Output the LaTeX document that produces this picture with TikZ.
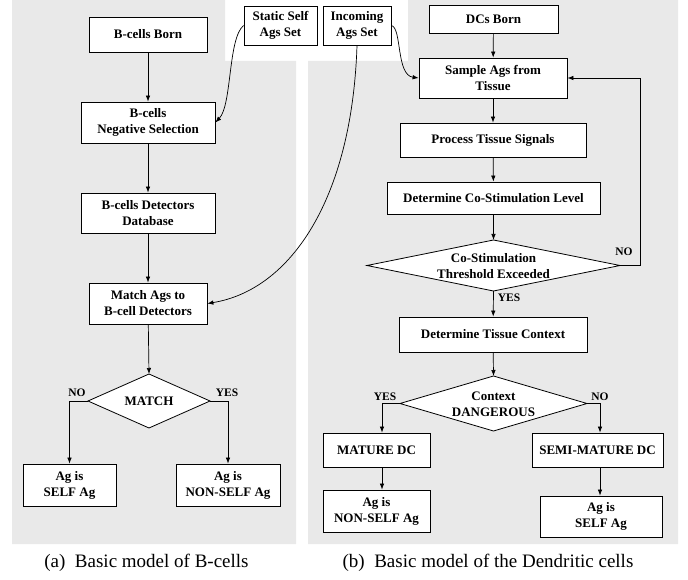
\documentclass[tikz,border=0pt]{standalone}
\usepackage{fontspec}
\setmainfont{Liberation Serif}
\usetikzlibrary{arrows.meta,calc}
\definecolor{panel}{RGB}{233,233,233}
\newcommand{\nodefont}{\fontsize{13}{16}\selectfont\bfseries}
\newcommand{\lblfont}{\fontsize{11.5}{13}\selectfont\bfseries}
\newcommand{\capfont}{\fontsize{19}{22}\selectfont}
\begin{document}
\begin{tikzpicture}[x=1pt,y=-1pt,
 box/.style={draw=black, fill=white, line width=0.8pt, align=center, font=\nodefont, inner sep=0pt},
 lbl/.style={font=\lblfont, inner sep=0pt},
 arr/.style={line width=0.7pt, -{Latex[length=6pt,width=4.5pt]}},
 dia/.style={draw=black, fill=white, line width=0.8pt},
 dtext/.style={align=center, font=\nodefont, inner sep=0pt}]
\useasboundingbox (0,0) rectangle (688,580);
% panels
\fill[panel] (12,0) -- (225,0) -- (225,61) -- (296,61) -- (296,544) -- (12,544) -- cycle;
\fill[panel] (308,61) -- (408,61) -- (408,0) -- (678,0) -- (678,544) -- (308,544) -- cycle;

% ---------- left: B-cells ----------
\node[box, minimum width=118, minimum height=35] (bborn) at (148,34.5) {B-cells Born};
\node[box, minimum width=134, minimum height=41] (bneg) at (148,122.5) {B-cells\\Negative Selection};
\node[box, minimum width=134, minimum height=40] (bdb) at (148,213) {B-cells Detectors\\Database};
\node[box, minimum width=118, minimum height=41] (bmatch) at (148,303.5) {Match Ags to\\B-cell Detectors};
\draw[dia] (149,374) coordinate (m-n) -- (210,401) coordinate (m-e) -- (149,428) coordinate (m-s) -- (88,401) coordinate (m-w) -- cycle;
\node[dtext] (mtext) at (149,401) {MATCH};
\node[box, minimum width=93, minimum height=42] (selfL) at (69.5,485) {Ag is\\SELF Ag};
\node[box, minimum width=104, minimum height=42] (nselfL) at (228,485) {Ag is\\NON-SELF Ag};

\draw[arr] (bborn) -- (bneg);
\draw[arr] (bneg) -- (bdb);
\draw[arr] (bdb) -- (bmatch);
\draw[arr] (bmatch) -- (m-n);
\draw[arr] (m-w) -| (selfL.north);
\draw[arr] (m-e) -| (nselfL.north);
\node[lbl] (noL) at (77,393) {NO};
\node[lbl] (yesL) at (227,393) {YES};

% ---------- top inputs ----------
\node[box, minimum width=73, minimum height=39] (static) at (280.5,25.5) {Static Self\\Ags Set};
\node[box, minimum width=68, minimum height=39] (incoming) at (357,25.5) {Incoming\\Ags Set};

% ---------- right: DCs ----------
\node[box, minimum width=129, minimum height=28] (dcborn) at (493.5,19) {DCs Born};
\node[box, minimum width=148, minimum height=40] (sample) at (493,78) {Sample Ags from\\Tissue};
\node[box, minimum width=186, minimum height=34] (process) at (493,140) {Process Tissue Signals};
\node[box, minimum width=213, minimum height=32] (costim) at (493.5,198) {Determine Co-Stimulation Level};
\draw[dia] (493.5,240) coordinate (c-n) -- (620,265.5) coordinate (c-e) -- (493.5,291) coordinate (c-s) -- (367,265.5) coordinate (c-w) -- cycle;
\node[dtext] (ctext) at (493.5,266) {Co-Stimulation\\Threshold Exceeded};
\node[box, minimum width=188, minimum height=35] (context) at (493,334.5) {Determine Tissue Context};
\draw[dia] (493.5,376) coordinate (d-n) -- (587,403.5) coordinate (d-e) -- (493.5,431) coordinate (d-s) -- (400,403.5) coordinate (d-w) -- cycle;
\node[dtext] (dtext) at (493.5,404) {Context\\DANGEROUS};
\node[box, minimum width=107, minimum height=34] (mature) at (376.5,450) {MATURE DC};
\node[box, minimum width=131, minimum height=34] (semi) at (597.5,450) {SEMI-MATURE DC};
\node[box, minimum width=107, minimum height=42] (nselfR) at (376.5,511) {Ag is\\NON-SELF Ag};
\node[box, minimum width=122, minimum height=41] (selfR) at (601,516.5) {Ag is\\SELF Ag};

\draw[arr] (dcborn) -- (sample);
\draw[arr] (sample) -- (process);
\draw[arr] (process) -- (costim);
\draw[arr] (costim) -- (c-n);
\draw[arr] (c-s) -- (context);
\draw[arr] (context) -- (d-n);
\draw[arr] (c-e) -- ++(20,0) |- (sample.east);
\draw[arr] (d-w) -| ([xshift=5.5pt]mature.north);
\draw[arr] (d-e) -| ([xshift=2.5pt]semi.north);
\draw[arr] ([xshift=5.5pt]mature.south) -- ([xshift=5.5pt]nselfR.north);
\draw[arr] ([xshift=2.5pt]semi.south) -- ([xshift=2.5pt]semi.south |- selfR.north);
\node[lbl] (noC) at (624,252) {NO};
\node[lbl] (yesC) at (509,298) {YES};
\node[lbl] (yesD) at (385,397) {YES};
\node[lbl] (noD) at (600,397) {NO};

% ---------- curved inputs ----------
\draw[arr] (static.west) .. controls (228,38) and (232,105) .. (bneg.east);
\draw[arr] (incoming.east) .. controls (402,28) and (396,75) .. (sample.west);
\draw[arr] (incoming.south) .. controls (352,200) and (290,290) .. (bmatch.east);

% ---------- captions ----------
\node[font=\capfont, inner sep=0pt] (capa) at (146.5,563) {(a)\ \ Basic model of B-cells};
\node[font=\capfont, inner sep=0pt] (capb) at (488,563) {(b)\ \ Basic model of the Dendritic cells};
\end{tikzpicture}
\end{document}
